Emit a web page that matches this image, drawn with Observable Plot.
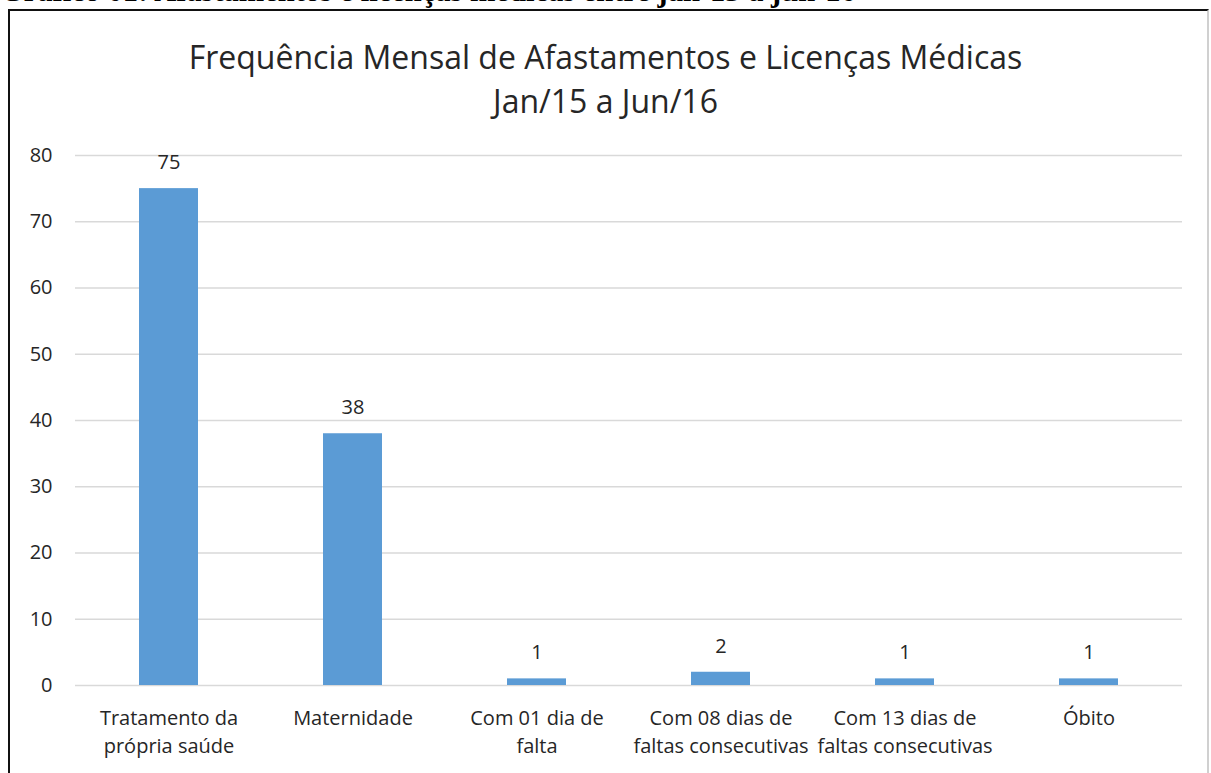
<!DOCTYPE html>
<html>
<head>
<meta charset="utf-8">
<script src="https://cdn.jsdelivr.net/npm/d3@7"></script>
<script src="https://cdn.jsdelivr.net/npm/@observablehq/plot@0.6"></script>
<style>
  html, body { margin: 0; padding: 0; background: #fff; width: 1211px; height: 773px; overflow: hidden; position: relative; }
  #caption { position: absolute; left: 0; top: 0; width: 1211px; height: 9px; overflow: hidden; }
  #caption span { position: absolute; left: 0; top: -24px; font-family: "Liberation Serif", serif; font-weight: bold; font-size: 30.5px; line-height: 30.5px; white-space: nowrap; color: #000; }
  #frame { position: absolute; left: 8px; top: 9px; width: 1201px; height: 800px; border-left: 2px solid #111; border-top: 2px solid #111; border-right: 2px solid #d0d0d0; box-sizing: border-box; background: #fff; }
  .title { position: absolute; left: 0; width: 1211px; text-align: center; font-family: "Open Sans", sans-serif; font-size: 32px; color: #262626; line-height: 44px; white-space: nowrap; }
  #chart { position: absolute; left: 0; top: 0; }
</style>
</head>
<body>
<div id="caption"><span>Gráfico 01: Afastamentos e licenças médicas entre jan-15 a jun-16</span></div>
<div id="frame"></div>
<div id="chart"></div>
<div class="title" style="top:35px">Frequência Mensal de Afastamentos e Licenças Médicas</div>
<div class="title" style="top:79px">Jan/15 a Jun/16</div>
<script>
const categories = [
  "Tratamento da\nprópria saúde",
  "Maternidade",
  "Com 01 dia de\nfalta",
  "Com 08 dias de\nfaltas consecutivas",
  "Com 13 dias de\nfaltas consecutivas",
  "Óbito"
];
const values = [75, 38, 1, 2, 1, 1];
const yTicks = [0, 10, 20, 30, 40, 50, 60, 70, 80];

const data = categories.map((c, i) => ({category: c, value: values[i]}));

const chart = Plot.plot({
  width: 1211,
  height: 773,
  marginLeft: 75,
  marginRight: 29,
  marginTop: 155,
  marginBottom: 88,
  style: {fontFamily: "'Open Sans', sans-serif", background: "transparent", overflow: "visible"},
  x: {domain: categories, paddingInner: 0.68, paddingOuter: 0.34, label: null},
  y: {domain: [0, 80], label: null},
  marks: [
    Plot.gridY(yTicks, {stroke: "#d9d9d9", strokeOpacity: 1, strokeWidth: 1.5}),
    Plot.barY(data, {x: "category", y: "value", fill: "#5b9bd5"}),
    Plot.text(data, {x: "category", y: "value", text: d => String(d.value), dy: -26, fontSize: 20, fill: "#262626"}),
    Plot.axisY(yTicks, {tickSize: 0, tickPadding: 23, fontSize: 20, color: "#262626", label: null}),
    Plot.axisX({tickSize: 0, tickPadding: 19, fontSize: 20, color: "#262626", lineHeight: 1.42, label: null})
  ]
});
document.getElementById("chart").appendChild(chart);
</script>
</body>
</html>
